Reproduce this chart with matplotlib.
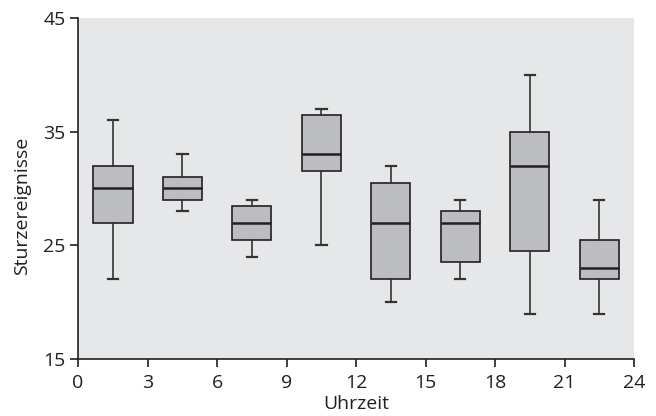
import matplotlib
matplotlib.use("Agg")
import matplotlib.pyplot as plt

# Sturzereignisse je Uhrzeit (3-Stunden-Intervalle)
positions = [1.5, 4.5, 7.5, 10.5, 13.5, 16.5, 19.5, 22.5]
whislo = [22, 28, 24, 25, 20, 22, 19, 19]
q1 = [27, 29, 25.5, 31.5, 22, 23.5, 24.5, 22]
med = [30, 30, 27, 33, 27, 27, 32, 23]
q3 = [32, 31, 28.5, 36.5, 30.5, 28, 35, 25.5]
whishi = [36, 33, 29, 37, 32, 29, 40, 29]
xticks = [0, 3, 6, 9, 12, 15, 18, 21, 24]
yticks = [15, 25, 35, 45]

plt.rcParams['font.family'] = ['Open Sans', 'DejaVu Sans']
ink = '#231f20'

stats = []
for i in range(len(positions)):
    stats.append({'whislo': whislo[i], 'q1': q1[i], 'med': med[i],
                  'q3': q3[i], 'whishi': whishi[i], 'fliers': []})

fig = plt.figure(figsize=(6.56, 4.16), dpi=100)
ax = fig.add_axes([0.119, 0.137, 0.8475, 0.82])
ax.set_facecolor('#e6e7e8')

ax.bxp(stats, positions=positions, widths=1.7, capwidths=0.45, patch_artist=True,
       showfliers=False,
       boxprops=dict(facecolor='#bcbdc0', edgecolor=ink, linewidth=1.2),
       medianprops=dict(color=ink, linewidth=1.8),
       whiskerprops=dict(color='#333333', linewidth=1.2),
       capprops=dict(color='#333333', linewidth=1.6))

ax.set_xlim(0, 24)
ax.set_ylim(15, 45)
ax.set_xticks(xticks)
ax.set_xticklabels([str(t) for t in xticks])
ax.set_yticks(yticks)
ax.spines['top'].set_visible(False)
ax.spines['right'].set_visible(False)
for s in ['left', 'bottom']:
    ax.spines[s].set_color(ink)
    ax.spines[s].set_linewidth(1.2)
ax.tick_params(direction='out', length=6, width=1.2, color=ink,
               labelsize=14, labelcolor=ink, pad=3)
ax.tick_params(axis='x', pad=5)
ax.set_xlabel('Uhrzeit', fontsize=14, color=ink, labelpad=2)
ax.set_ylabel('Sturzereignisse', fontsize=14, color=ink, labelpad=7)
ax.yaxis.set_label_coords(-0.085, 0.45)

fig.savefig('out.png', dpi=100)
